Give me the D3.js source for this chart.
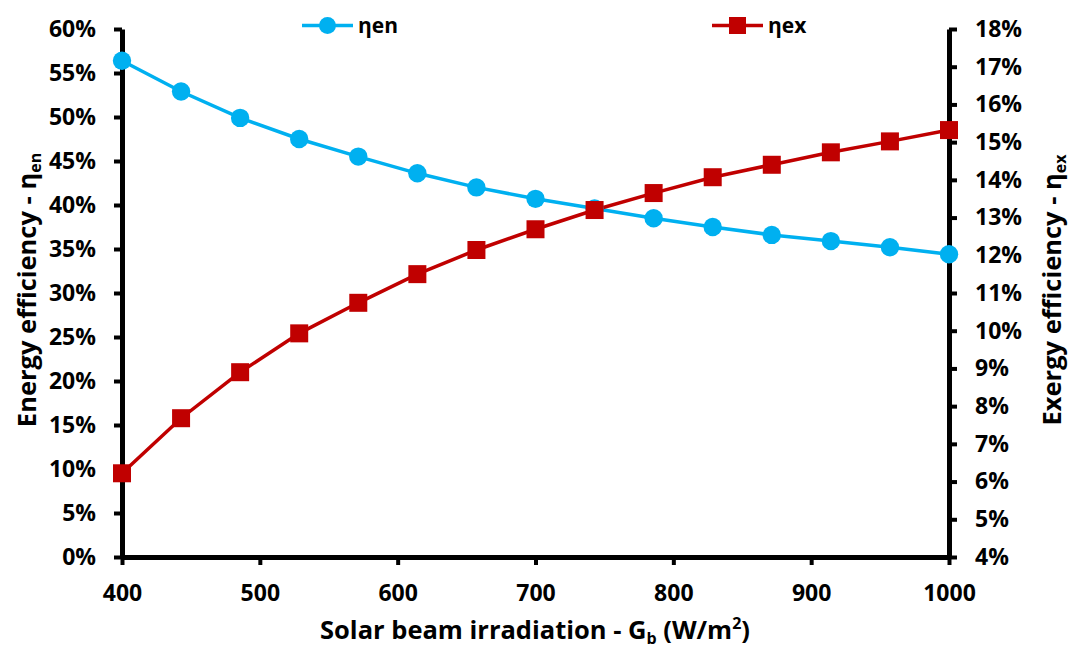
<!DOCTYPE html>
<html><head><meta charset="utf-8">
<script src="https://cdn.jsdelivr.net/npm/d3@7"></script>
<style>
html,body{margin:0;padding:0;background:#fff;}
svg text{font-family:"Open Sans","Lato",sans-serif;font-weight:bold;fill:#000;}
</style>
</head><body>
<svg id="chart" width="1070" height="648"></svg>
<script>
const irradiation = [400, 442.86, 485.71, 528.57, 571.43, 614.29, 657.14, 700, 742.86, 785.71, 828.57, 871.43, 914.29, 957.14, 1000];
const etaEn = [0.564, 0.529, 0.499, 0.475, 0.455, 0.436, 0.420, 0.407, 0.396, 0.385, 0.375, 0.366, 0.359, 0.352, 0.344];
const etaEx = [0.0622, 0.0768, 0.0890, 0.0993, 0.1074, 0.1150, 0.1214, 0.1269, 0.1320, 0.1365, 0.1407, 0.1440, 0.1473, 0.1502, 0.1532];
const xTicks = [400, 500, 600, 700, 800, 900, 1000];
const leftTicks = [0, 0.05, 0.10, 0.15, 0.20, 0.25, 0.30, 0.35, 0.40, 0.45, 0.50, 0.55, 0.60];
const rightTicks = [0.04, 0.05, 0.06, 0.07, 0.08, 0.09, 0.10, 0.11, 0.12, 0.13, 0.14, 0.15, 0.16, 0.17, 0.18];
const seriesNames = ["ηen", "ηex"];
const colors = ["#00B0F0", "#C00000"];

const svg = d3.select("#chart");
const L = 122, R = 949, T = 29, B = 557;
const x = d3.scaleLinear().domain([400, 1000]).range([L, R]);
const yL = d3.scaleLinear().domain([0, 0.60]).range([B, T]);
const yR = d3.scaleLinear().domain([0.04, 0.18]).range([B, T]);
const pct = d3.format(".0%");

function styleAxis(g) {
  g.select(".domain").attr("stroke", "#000").attr("stroke-width", 5);
  g.selectAll(".tick line").attr("stroke", "#000").attr("stroke-width", 4);
  g.selectAll(".tick text").style("font-size", "23px");
}

const gx = svg.append("g").attr("transform", `translate(0,${B})`)
  .call(d3.axisBottom(x).tickValues(xTicks).tickSize(8).tickSizeOuter(0).tickPadding(20).tickFormat(d3.format("d")));
styleAxis(gx);

const gl = svg.append("g").attr("transform", `translate(${L},0)`)
  .call(d3.axisLeft(yL).tickValues(leftTicks).tickSize(8).tickSizeOuter(0).tickPadding(18).tickFormat(pct));
styleAxis(gl);

const gr = svg.append("g").attr("transform", `translate(${R},0)`)
  .call(d3.axisRight(yR).tickValues(rightTicks).tickSize(8).tickSizeOuter(0).tickPadding(18).tickFormat(pct));
styleAxis(gr);

// lines
const lineEn = d3.line().x((d, i) => x(irradiation[i])).y(d => yL(d));
const lineEx = d3.line().x((d, i) => x(irradiation[i])).y(d => yR(d));

svg.append("path").datum(etaEn).attr("d", lineEn).attr("fill", "none")
  .attr("stroke", colors[0]).attr("stroke-width", 3.5);
svg.append("path").datum(etaEx).attr("d", lineEx).attr("fill", "none")
  .attr("stroke", colors[1]).attr("stroke-width", 3.5);

svg.append("g").selectAll("circle").data(etaEn).join("circle")
  .attr("cx", (d, i) => x(irradiation[i])).attr("cy", d => yL(d)).attr("r", 9.2)
  .attr("fill", colors[0]);

const sq = 18;
svg.append("g").selectAll("rect").data(etaEx).join("rect")
  .attr("x", (d, i) => x(irradiation[i]) - sq / 2).attr("y", d => yR(d) - sq / 2)
  .attr("width", sq).attr("height", sq).attr("fill", colors[1]);

// legend
const legend = [
  {x1: 302, x2: 353, cy: 25.5, name: seriesNames[0], color: colors[0], shape: "circle"},
  {x1: 712, x2: 763, cy: 25.5, name: seriesNames[1], color: colors[1], shape: "rect"}
];
legend.forEach(l => {
  svg.append("line").attr("x1", l.x1).attr("x2", l.x2).attr("y1", l.cy).attr("y2", l.cy)
    .attr("stroke", l.color).attr("stroke-width", 3.5);
  const cx = (l.x1 + l.x2) / 2;
  if (l.shape === "circle") {
    svg.append("circle").attr("cx", cx).attr("cy", l.cy).attr("r", 8.5).attr("fill", l.color);
  } else {
    svg.append("rect").attr("x", cx - 8.5).attr("y", l.cy - 8.5).attr("width", 17).attr("height", 17).attr("fill", l.color);
  }
  svg.append("text").attr("x", l.x2 + 5).attr("y", 33).style("font-size", "21px").text(l.name);
});

// axis titles
const xt = svg.append("text").attr("x", 535).attr("y", 639).attr("text-anchor", "middle").style("font-size", "25.5px");
xt.append("tspan").text("Solar beam irradiation - G");
xt.append("tspan").attr("dy", 5).style("font-size", "16px").text("b");
xt.append("tspan").attr("dy", -5).text(" (W/m");
xt.append("tspan").attr("dy", -10).style("font-size", "16px").text("2");
xt.append("tspan").attr("dy", 10).text(")");

const lt = svg.append("text").attr("transform", `translate(36,290) rotate(-90)`)
  .attr("text-anchor", "middle").style("font-size", "25.5px");
lt.append("tspan").text("Energy efficiency - η");
lt.append("tspan").attr("dy", 5).style("font-size", "16px").text("en");

const rt = svg.append("text").attr("transform", `translate(1061,290) rotate(-90)`)
  .attr("text-anchor", "middle").style("font-size", "25.5px");
rt.append("tspan").text("Exergy efficiency - η");
rt.append("tspan").attr("dy", 5).style("font-size", "16px").text("ex");
</script>
</body></html>
